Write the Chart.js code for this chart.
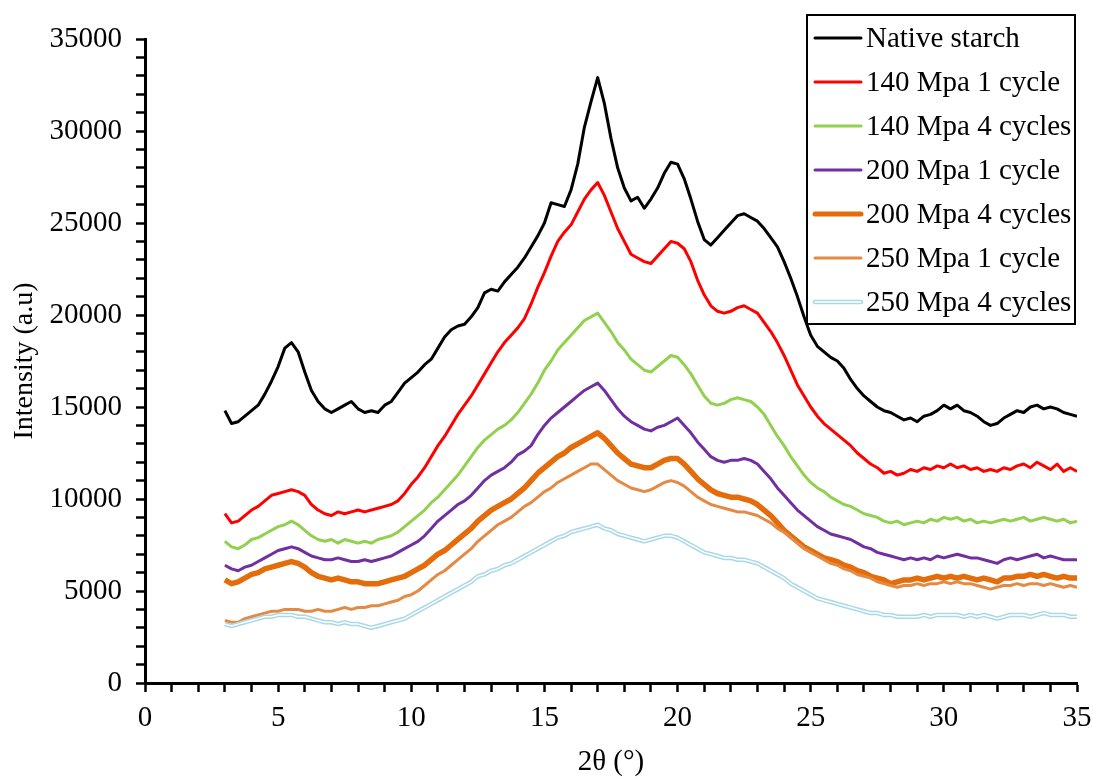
<!DOCTYPE html>
<html>
<head>
<meta charset="utf-8">
<script src="https://cdn.jsdelivr.net/npm/chart.js@4/dist/chart.umd.min.js"></script>
<style>
    html, body { margin: 0; padding: 0; background: #fff; }
    canvas { display: block; }
</style>
</head>
<body>
<canvas id="xrdChart" width="1093" height="779"></canvas>
<script>
// 2θ positions (°)
const twoTheta = [
    3, 3.25, 3.5, 3.75, 4, 4.25, 4.5, 4.75,
    5, 5.25, 5.5, 5.75, 6, 6.25, 6.5, 6.75,
    7, 7.25, 7.5, 7.75, 8, 8.25, 8.5, 8.75,
    9, 9.25, 9.5, 9.75, 10, 10.25, 10.5, 10.75,
    11, 11.25, 11.5, 11.75, 12, 12.25, 12.5, 12.75,
    13, 13.25, 13.5, 13.75, 14, 14.25, 14.5, 14.75,
    15, 15.25, 15.5, 15.75, 16, 16.25, 16.5, 16.75,
    17, 17.25, 17.5, 17.75, 18, 18.25, 18.5, 18.75,
    19, 19.25, 19.5, 19.75, 20, 20.25, 20.5, 20.75,
    21, 21.25, 21.5, 21.75, 22, 22.25, 22.5, 22.75,
    23, 23.25, 23.5, 23.75, 24, 24.25, 24.5, 24.75,
    25, 25.25, 25.5, 25.75, 26, 26.25, 26.5, 26.75,
    27, 27.25, 27.5, 27.75, 28, 28.25, 28.5, 28.75,
    29, 29.25, 29.5, 29.75, 30, 30.25, 30.5, 30.75,
    31, 31.25, 31.5, 31.75, 32, 32.25, 32.5, 32.75,
    33, 33.25, 33.5, 33.75, 34, 34.25, 34.5, 34.75,
    35
];

const nativeStarch = [
    14800, 14100, 14200, 14500, 14800, 15100, 15700, 16400,
    17200, 18200, 18500, 18000, 16900, 15900, 15300, 14900,
    14700, 14900, 15100, 15300, 14900, 14700, 14800, 14700,
    15100, 15300, 15800, 16300, 16600, 16900, 17300, 17600,
    18200, 18800, 19200, 19400, 19500, 19900, 20400, 21200,
    21400, 21300, 21800, 22200, 22600, 23100, 23700, 24300,
    25000, 26100, 26000, 25900, 26800, 28200, 30200, 31600,
    32900, 31500, 29600, 28000, 26900, 26200, 26400, 25800,
    26300, 26900, 27700, 28300, 28200, 27400, 26300, 25100,
    24100, 23800, 24200, 24600, 25000, 25400, 25500, 25300,
    25100, 24700, 24200, 23700, 22900, 22000, 21000, 19900,
    18900, 18300, 18000, 17700, 17500, 17100, 16500, 16000,
    15600, 15300, 15000, 14800, 14700, 14500, 14300, 14400,
    14200, 14500, 14600, 14800, 15100, 14900, 15100, 14800,
    14700, 14500, 14200, 14000, 14100, 14400, 14600, 14800,
    14700, 15000, 15100, 14900, 15000, 14900, 14700, 14600,
    14500
];

const mpa140x1 = [
    9200, 8700, 8800, 9100, 9400, 9600, 9900, 10200,
    10300, 10400, 10500, 10400, 10200, 9700, 9400, 9200,
    9100, 9300, 9200, 9300, 9400, 9300, 9400, 9500,
    9600, 9700, 9900, 10300, 10800, 11200, 11700, 12300,
    12900, 13400, 14000, 14600, 15100, 15600, 16200, 16800,
    17400, 18000, 18500, 18900, 19300, 19800, 20600, 21500,
    22300, 23200, 24000, 24500, 24900, 25600, 26300, 26800,
    27200, 26500, 25600, 24700, 24000, 23300, 23100, 22900,
    22800, 23200, 23600, 24000, 23900, 23600, 22900, 21900,
    21100, 20500, 20200, 20100, 20200, 20400, 20500, 20300,
    20100, 19600, 19100, 18500, 17800, 17000, 16200, 15600,
    15000, 14500, 14100, 13800, 13500, 13200, 12900, 12500,
    12200, 11900, 11700, 11400, 11500, 11300, 11400, 11600,
    11500, 11700, 11600, 11800, 11700, 11900, 11700, 11800,
    11600, 11700, 11500, 11600, 11500, 11700, 11600, 11800,
    11900, 11700, 12000, 11800, 11600, 11900, 11500, 11700,
    11500
];

const mpa140x4 = [
    7700, 7400, 7300, 7500, 7800, 7900, 8100, 8300,
    8500, 8600, 8800, 8600, 8300, 8000, 7800, 7700,
    7800, 7600, 7800, 7700, 7600, 7700, 7600, 7800,
    7900, 8000, 8200, 8500, 8800, 9100, 9400, 9800,
    10100, 10500, 10900, 11300, 11800, 12300, 12800, 13200,
    13500, 13800, 14000, 14300, 14700, 15200, 15700, 16300,
    17000, 17500, 18100, 18500, 18900, 19300, 19700, 19900,
    20100, 19600, 19100, 18500, 18100, 17600, 17300, 17000,
    16900, 17200, 17500, 17800, 17700, 17300, 16800, 16200,
    15600, 15200, 15100, 15200, 15400, 15500, 15400, 15300,
    15000, 14600, 14000, 13400, 12900, 12300, 11800, 11300,
    10900, 10600, 10400, 10100, 9900, 9700, 9600, 9400,
    9200, 9100, 9000, 8800, 8700, 8800, 8600, 8700,
    8800, 8700, 8900, 8800, 9000, 8900, 9000, 8800,
    8900, 8700, 8800, 8700, 8800, 8900, 8800, 8900,
    9000, 8800, 8900, 9000, 8900, 8800, 8900, 8700,
    8800
];

const mpa200x1 = [
    6400, 6200, 6100, 6300, 6400, 6600, 6800, 7000,
    7200, 7300, 7400, 7300, 7100, 6900, 6800, 6700,
    6700, 6800, 6700, 6600, 6600, 6700, 6600, 6700,
    6800, 6900, 7100, 7300, 7500, 7700, 8000, 8400,
    8800, 9100, 9400, 9700, 9900, 10200, 10600, 11000,
    11300, 11500, 11700, 12000, 12400, 12600, 12900, 13500,
    14000, 14400, 14700, 15000, 15300, 15600, 15900, 16100,
    16300, 15900, 15400, 14900, 14500, 14200, 14000, 13800,
    13700, 13900, 14000, 14200, 14400, 14000, 13600, 13100,
    12700, 12300, 12100, 12000, 12100, 12100, 12200, 12100,
    11900, 11500, 11100, 10600, 10200, 9800, 9400, 9100,
    8800, 8500, 8300, 8100, 8000, 7900, 7800, 7600,
    7400, 7300, 7100, 7000, 6900, 6800, 6700, 6800,
    6700, 6800, 6700, 6900, 6800, 6900, 7000, 6900,
    6800, 6800, 6700, 6600, 6500, 6700, 6800, 6700,
    6800, 6900, 7000, 6800, 6900, 6800, 6700, 6700,
    6700
];

const mpa200x4 = [
    5600, 5400, 5500, 5700, 5900, 6000, 6200, 6300,
    6400, 6500, 6600, 6500, 6300, 6000, 5800, 5700,
    5600, 5700, 5600, 5500, 5500, 5400, 5400, 5400,
    5500, 5600, 5700, 5800, 6000, 6200, 6400, 6700,
    7000, 7200, 7500, 7800, 8100, 8400, 8800, 9100,
    9400, 9600, 9800, 10000, 10300, 10600, 11000, 11400,
    11700, 12000, 12300, 12500, 12800, 13000, 13200, 13400,
    13600, 13300, 12900, 12500, 12200, 11900, 11800, 11700,
    11700, 11900, 12100, 12200, 12200, 11900, 11500, 11100,
    10800, 10500, 10300, 10200, 10100, 10100, 10000, 9900,
    9700, 9400, 9100, 8700, 8300, 8000, 7700, 7400,
    7200, 7000, 6800, 6700, 6600, 6400, 6300, 6100,
    6000, 5800, 5700, 5600, 5400, 5500, 5600, 5600,
    5700, 5600, 5700, 5800, 5700, 5800, 5700, 5800,
    5700, 5600, 5700, 5600, 5500, 5700, 5700, 5800,
    5800, 5900, 5800, 5900, 5800, 5700, 5800, 5700,
    5700
];

const mpa250x1 = [
    3400, 3300, 3300, 3500, 3600, 3700, 3800, 3900,
    3900, 4000, 4000, 4000, 3900, 3900, 4000, 3900,
    3900, 4000, 4100, 4000, 4100, 4100, 4200, 4200,
    4300, 4400, 4500, 4700, 4800, 5000, 5300, 5600,
    5900, 6100, 6400, 6700, 7000, 7300, 7700, 8000,
    8300, 8600, 8800, 9000, 9300, 9600, 9800, 10100,
    10400, 10600, 10900, 11100, 11300, 11500, 11700, 11900,
    11900, 11600, 11300, 11000, 10800, 10600, 10500, 10400,
    10500, 10700, 10900, 11000, 10900, 10700, 10400, 10100,
    9900, 9700, 9600, 9500, 9400, 9300, 9300, 9200,
    9100, 8900, 8700, 8400, 8200, 7900, 7600, 7300,
    7100, 6900, 6700, 6500, 6400, 6200, 6100, 5900,
    5800, 5700, 5500, 5400, 5300, 5200, 5300, 5300,
    5400, 5300, 5400, 5400, 5500, 5400, 5500, 5400,
    5400, 5300, 5200, 5100, 5200, 5300, 5300, 5400,
    5300, 5400, 5400, 5300, 5400, 5300, 5200, 5300,
    5200
];

const mpa250x4 = [
    3200, 3100, 3200, 3300, 3400, 3500, 3600, 3600,
    3700, 3700, 3700, 3600, 3600, 3500, 3400, 3300,
    3300, 3200, 3300, 3200, 3200, 3100, 3000, 3100,
    3200, 3300, 3400, 3500, 3700, 3900, 4100, 4300,
    4500, 4700, 4900, 5100, 5300, 5500, 5800, 5900,
    6100, 6200, 6400, 6500, 6700, 6900, 7100, 7300,
    7500, 7700, 7900, 8000, 8200, 8300, 8400, 8500,
    8600, 8400, 8300, 8100, 8000, 7900, 7800, 7700,
    7800, 7900, 8000, 8000, 7900, 7700, 7500, 7300,
    7100, 7000, 6900, 6800, 6800, 6700, 6700, 6600,
    6500, 6300, 6100, 5900, 5700, 5400, 5200, 5000,
    4800, 4600, 4500, 4400, 4300, 4200, 4100, 4000,
    3900, 3800, 3800, 3700, 3700, 3600, 3600, 3600,
    3600, 3700, 3600, 3700, 3700, 3700, 3700, 3600,
    3700, 3600, 3700, 3600, 3500, 3600, 3700, 3700,
    3700, 3600, 3700, 3800, 3700, 3700, 3700, 3600,
    3600
];

const seriesLabels = [
    'Native starch',
    '140 Mpa 1 cycle',
    '140 Mpa 4 cycles',
    '200 Mpa 1 cycle',
    '200 Mpa 4 cycles',
    '250 Mpa 1 cycle',
    '250 Mpa 4 cycles'
];

const yTicks = [0, 5000, 10000, 15000, 20000, 25000, 30000, 35000];
const xTicks = [0, 5, 10, 15, 20, 25, 30, 35];

const FONT = '"Liberation Serif", "Times New Roman", serif';

const toPoints = (ys) => twoTheta.map((x, i) => ({ x, y: ys[i] }));

// later series sit on top, like the spreadsheet original
const lineSet = (label, ys, color, width, order) => ({
    label,
    data: toPoints(ys),
    borderColor: color,
    borderWidth: width,
    pointRadius: 0,
    tension: 0,
    fill: false,
    borderJoinStyle: 'round',
    order
});

const styles = [
    { color: '#000000', width: 3 },
    { color: '#ff0000', width: 3 },
    { color: '#92d050', width: 3 },
    { color: '#7030a0', width: 3 },
    { color: '#e46c0a', width: 5.5 },
    { color: '#e38a45', width: 3 },
    { color: '#a9d8e6', width: 4.5, inner: '#ffffff' }
];

const datasets = [
    lineSet(seriesLabels[0], nativeStarch, styles[0].color, styles[0].width, 9),
    lineSet(seriesLabels[1], mpa140x1, styles[1].color, styles[1].width, 8),
    lineSet(seriesLabels[2], mpa140x4, styles[2].color, styles[2].width, 7),
    lineSet(seriesLabels[3], mpa200x1, styles[3].color, styles[3].width, 6),
    lineSet(seriesLabels[4], mpa200x4, styles[4].color, styles[4].width, 5),
    lineSet(seriesLabels[5], mpa250x1, styles[5].color, styles[5].width, 4),
    lineSet(seriesLabels[6], mpa250x4, styles[6].color, styles[6].width, 3),
    // white core turns the last series into a double line
    lineSet('', mpa250x4, '#ffffff', 1.5, 2)
];

// boxed legend in the top right corner, drawn over the traces
const boxLegend = {
    id: 'boxLegend',
    afterDatasetsDraw(chart) {
        const { ctx } = chart;
        const left = 807, top = 15, width = 268, height = 309;
        const rowTop = 38, rowGap = 44;
        ctx.save();
        ctx.fillStyle = '#ffffff';
        ctx.fillRect(left, top, width, height);
        ctx.lineWidth = 2;
        ctx.strokeStyle = '#000000';
        ctx.strokeRect(left, top, width, height);

        ctx.font = '29px ' + FONT;
        ctx.textBaseline = 'middle';
        ctx.textAlign = 'left';
        seriesLabels.forEach((label, i) => {
            const y = rowTop + i * rowGap;
            const st = styles[i];
            ctx.lineCap = 'round';
            ctx.beginPath();
            ctx.moveTo(815, y);
            ctx.lineTo(861, y);
            ctx.strokeStyle = st.color;
            ctx.lineWidth = Math.min(st.width, 5);
            ctx.stroke();
            if (st.inner) {
                ctx.beginPath();
                ctx.moveTo(815, y);
                ctx.lineTo(861, y);
                ctx.strokeStyle = st.inner;
                ctx.lineWidth = 1.5;
                ctx.stroke();
            }
            ctx.fillStyle = '#000000';
            ctx.fillText(label, 866, y + 1);
        });
        ctx.restore();
    }
};

const axisFont = { family: FONT, size: 29 };

new Chart(document.getElementById('xrdChart'), {
    type: 'line',
    data: { datasets },
    plugins: [boxLegend],
    options: {
        responsive: false,
        animation: false,
        events: [],
        layout: { padding: { left: 0, right: 16, top: 39, bottom: 0 } },
        plugins: {
            legend: { display: false },
            tooltip: { enabled: false }
        },
        scales: {
            x: {
                type: 'linear',
                min: 0,
                max: 35,
                ticks: {
                    stepSize: 1,
                    autoSkip: false,
                    maxRotation: 0,
                    padding: 9,
                    color: '#000',
                    font: axisFont,
                    callback: (v) => xTicks.includes(v) ? String(v) : ''
                },
                grid: {
                    drawOnChartArea: false,
                    drawTicks: true,
                    tickLength: 9,
                    tickWidth: 2.5,
                    tickColor: '#000'
                },
                border: { color: '#000', width: 3 },
                title: {
                    display: true,
                    text: '2θ (°)',
                    color: '#000',
                    font: { family: FONT, size: 29, lineHeight: 1 },
                    padding: { top: 0, bottom: 2 }
                },
                afterFit: (scale) => {
                    scale.height = 96;
                    // the layout padding already leaves room for the last label
                    scale.paddingLeft = 0;
                    scale.paddingRight = 0;
                }
            },
            y: {
                min: 0,
                max: 35000,
                ticks: {
                    stepSize: 1000,
                    autoSkip: false,
                    padding: 14,
                    color: '#000',
                    font: axisFont,
                    callback: (v) => yTicks.includes(v) ? String(v) : ''
                },
                grid: {
                    drawOnChartArea: false,
                    drawTicks: true,
                    tickLength: 9,
                    tickWidth: 2.5,
                    tickColor: '#000'
                },
                border: { color: '#000', width: 3 },
                title: {
                    display: true,
                    text: 'Intensity (a.u)',
                    color: '#000',
                    font: { family: FONT, size: 28, lineHeight: 1 },
                    padding: { top: 11, bottom: 0 }
                },
                afterFit: (scale) => { scale.width = 145; }
            }
        }
    }
});
</script>
</body>
</html>
